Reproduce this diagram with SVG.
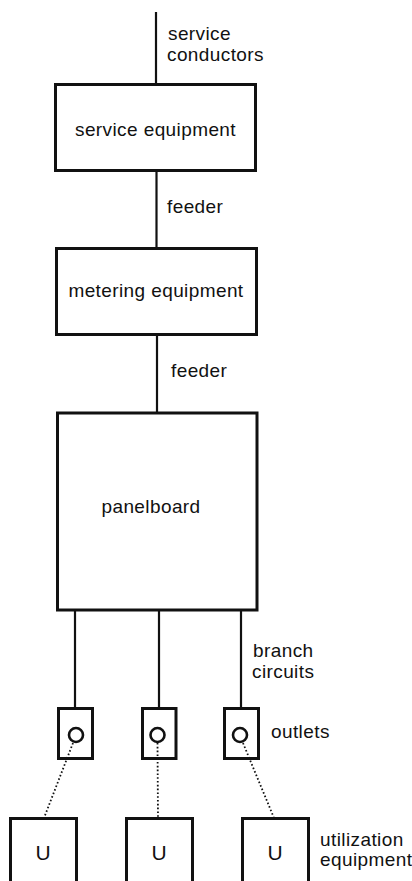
<svg xmlns="http://www.w3.org/2000/svg" width="412" height="881" viewBox="0 0 412 881">
<style>
  text { font-family: "Liberation Sans", Arial, sans-serif; font-size: 19px; fill: #111; letter-spacing: 0.4px; }
  .c { text-anchor: middle; }
  .u { font-size: 21px; letter-spacing: 0; }
  .box { fill: none; stroke: #111; stroke-width: 3; }
  .wire { fill: none; stroke: #111; stroke-width: 2.2; }
  .dot { fill: none; stroke: #111; stroke-width: 1.8; stroke-dasharray: 1.6 2.2; }
  .sock { fill: none; stroke: #111; stroke-width: 2.6; }
</style>
<rect width="412" height="881" fill="#fff"/>
<g id="connectors">
  <line class="wire" x1="156" y1="12" x2="156" y2="84"/>
  <line class="wire" x1="156.5" y1="170" x2="156.5" y2="248"/>
  <line class="wire" x1="157" y1="334" x2="157" y2="413"/>
  <line class="wire" x1="75" y1="610" x2="75" y2="708"/>
  <line class="wire" x1="159" y1="610" x2="159" y2="708"/>
  <line class="wire" x1="241" y1="610" x2="241" y2="708"/>
  <line class="dot" x1="73" y1="743" x2="44" y2="818"/>
  <line class="dot" x1="157.5" y1="743" x2="158" y2="818"/>
  <line class="dot" x1="243" y1="743" x2="274" y2="818"/>
</g>
<g id="label-service-conductors">
  <text x="168" y="40">service</text>
  <text x="167" y="61">conductors</text>
</g>
<g id="service-equipment">
  <rect class="box" x="55.5" y="84.5" width="200" height="86"/>
  <text class="c" x="155.5" y="136">service equipment</text>
</g>
<g id="label-feeder-1"><text x="167" y="213">feeder</text></g>
<g id="metering-equipment">
  <rect class="box" x="56.5" y="248.5" width="200" height="86"/>
  <text class="c" x="156" y="297">metering equipment</text>
</g>
<g id="label-feeder-2"><text x="171" y="377">feeder</text></g>
<g id="panelboard">
  <rect class="box" x="57.5" y="413" width="199.5" height="197"/>
  <text class="c" x="151" y="513">panelboard</text>
</g>
<g id="label-branch-circuits">
  <text x="253" y="657">branch</text>
  <text x="252" y="678">circuits</text>
</g>
<g id="outlet-1">
  <rect class="box" x="58.5" y="708.5" width="34" height="50"/>
  <circle class="sock" cx="76" cy="735" r="7"/>
</g>
<g id="outlet-2">
  <rect class="box" x="142.5" y="708.5" width="33.5" height="50"/>
  <circle class="sock" cx="157.5" cy="735" r="7"/>
</g>
<g id="outlet-3">
  <rect class="box" x="224.5" y="708.5" width="34" height="50"/>
  <circle class="sock" cx="240" cy="735" r="7"/>
</g>
<g id="label-outlets"><text x="271" y="738">outlets</text></g>
<g id="utilization-1">
  <path class="box" d="M10.5 882 V818.5 H76.5 V882"/>
  <text class="c u" x="43" y="860">U</text>
</g>
<g id="utilization-2">
  <path class="box" d="M126.5 882 V818.5 H192.5 V882"/>
  <text class="c u" x="159" y="860">U</text>
</g>
<g id="utilization-3">
  <path class="box" d="M242.5 882 V818.5 H308.5 V882"/>
  <text class="c u" x="275" y="860">U</text>
</g>
<g id="label-utilization-equipment">
  <text x="320" y="846">utilization</text>
  <text x="320" y="866">equipment</text>
</g>
</svg>
